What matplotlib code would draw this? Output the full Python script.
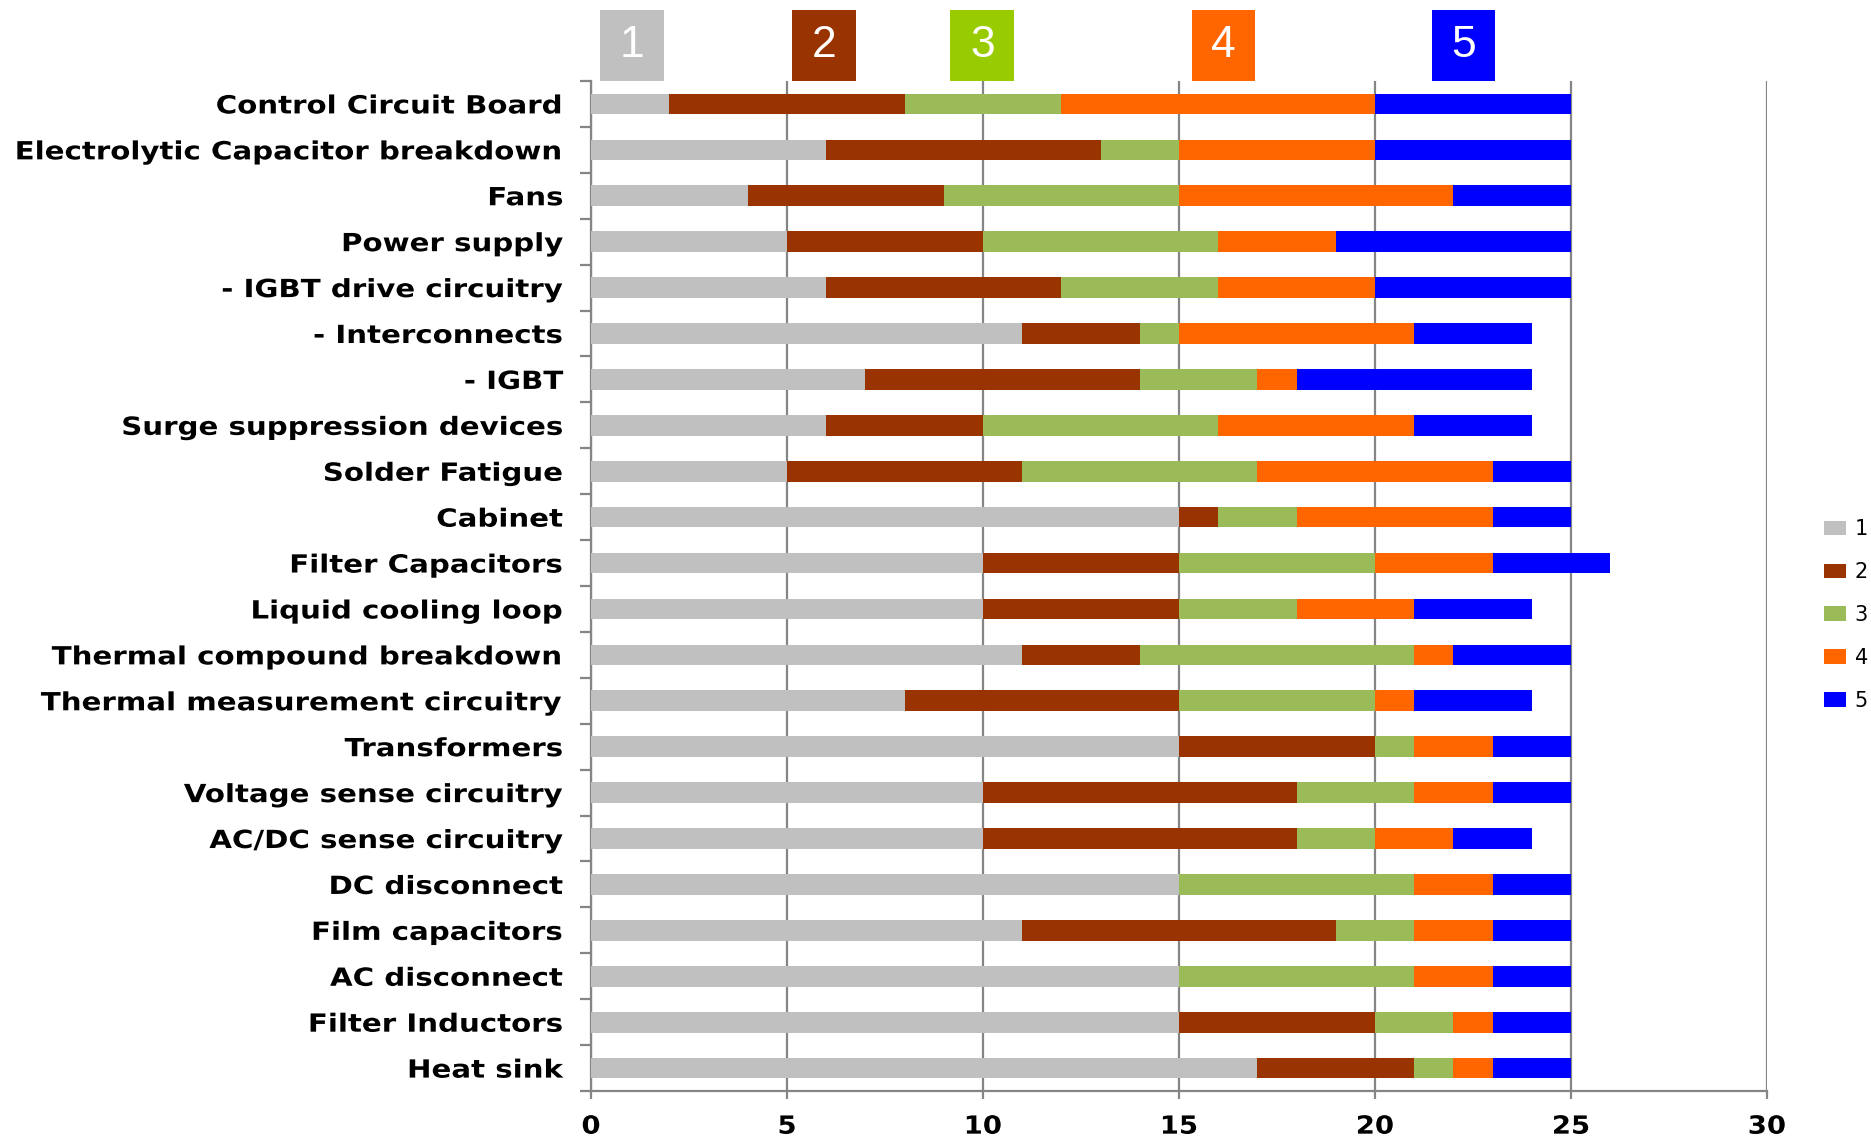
import matplotlib
matplotlib.use("Agg")
import matplotlib.pyplot as plt
from matplotlib.patches import Rectangle, Patch
from matplotlib.patheffects import AbstractPathEffect
from matplotlib.ticker import FixedLocator, NullFormatter
from matplotlib.transforms import Affine2D
import numpy as np

categories = [
    "Control Circuit Board", "Electrolytic Capacitor breakdown", "Fans",
    "Power supply", "- IGBT drive circuitry", "- Interconnects", "- IGBT",
    "Surge suppression devices", "Solder Fatigue", "Cabinet",
    "Filter Capacitors", "Liquid cooling loop", "Thermal compound breakdown",
    "Thermal measurement circuitry", "Transformers", "Voltage sense circuitry",
    "AC/DC sense circuitry", "DC disconnect", "Film capacitors",
    "AC disconnect", "Filter Inductors", "Heat sink",
]
series_names = ["1", "2", "3", "4", "5"]
s1 = [2, 6, 4, 5, 6, 11, 7, 6, 5, 15, 10, 10, 11, 8, 15, 10, 10, 15, 11, 15, 15, 17]
s2 = [6, 7, 5, 5, 6, 3, 7, 4, 6, 1, 5, 5, 3, 7, 5, 8, 8, 0, 8, 0, 5, 4]
s3 = [4, 2, 6, 6, 4, 1, 3, 6, 6, 2, 5, 3, 7, 5, 1, 3, 2, 6, 2, 6, 2, 1]
s4 = [8, 5, 7, 3, 4, 6, 1, 5, 6, 5, 3, 3, 1, 1, 2, 2, 2, 2, 2, 2, 1, 1]
s5 = [5, 5, 3, 6, 5, 3, 6, 3, 2, 2, 3, 3, 3, 3, 2, 2, 2, 2, 2, 2, 2, 2]
x_ticks = [0, 5, 10, 15, 20, 25, 30]

bar_colors = ["#C0C0C0", "#993300", "#9BBB59", "#FF6600", "#0000FF"]
header_colors = ["#C0C0C0", "#993300", "#99CC00", "#FF6600", "#0000FF"]
header_left = [0.23, 5.13, 9.17, 15.33, 21.45]
grid_gray = "#858585"


class HStretch(AbstractPathEffect):
    """Widen glyphs horizontally, keeping the right edge or centre fixed."""

    def __init__(self, sx, anchor="right"):
        super().__init__()
        self.sx = sx
        self.anchor = anchor

    def draw_path(self, renderer, gc, tpath, affine, rgbFace=None):
        ext = tpath.get_extents(affine)
        x0 = ext.x1 if self.anchor == "right" else 0.5 * (ext.x0 + ext.x1)
        t = affine + Affine2D().translate(-x0, 0).scale(self.sx, 1.0).translate(x0, 0)
        renderer.draw_path(gc, tpath, t, rgbFace)


fig = plt.figure(figsize=(18.71, 11.39), dpi=100)
ax = fig.add_axes([0.3159, 0.0421, 0.6285, 0.8868])

y = np.arange(len(categories))
left = np.zeros(len(categories))
for name, vals, col in zip(series_names, [s1, s2, s3, s4, s5], bar_colors):
    vals = np.array(vals, dtype=float)
    ax.barh(y, vals, left=left, height=0.45, color=col, edgecolor="none",
            label=name, zorder=3)
    left += vals

ax.set_xlim(0, 30)
ax.set_ylim(len(categories) - 0.5, -0.5)

# vertical gridlines behind the bars
ax.set_axisbelow(True)
ax.xaxis.set_major_locator(FixedLocator(x_ticks))
ax.grid(axis="x", color=grid_gray, linewidth=1.6, zorder=0)
ax.grid(axis="y", visible=False)

for side in ["top", "right"]:
    ax.spines[side].set_visible(False)
for side in ["left", "bottom"]:
    ax.spines[side].set_color(grid_gray)
    ax.spines[side].set_linewidth(1.6)

# category labels centred on bars, separator ticks between rows
ax.set_yticks(y)
ax.set_yticklabels(categories, fontsize=18, fontweight="bold",
                   family="DejaVu Sans")
ax.tick_params(axis="y", which="major", length=0, pad=20)
ax.yaxis.set_minor_locator(FixedLocator(np.arange(-0.5, len(categories), 1.0)))
ax.yaxis.set_minor_formatter(NullFormatter())
ax.tick_params(axis="y", which="minor", length=8, width=1.6, color=grid_gray)
for lab in ax.get_yticklabels():
    lab.set_path_effects([HStretch(1.17, "right")])

ax.set_xticklabels([str(t) for t in x_ticks], fontsize=18, fontweight="bold",
                   family="DejaVu Sans")
ax.tick_params(axis="x", which="major", length=6, width=1.6, color=grid_gray,
               pad=11)
for lab in ax.get_xticklabels():
    lab.set_path_effects([HStretch(1.1, "center")])

# numbered colour headers above the plot
for name, x0, col in zip(series_names, header_left, header_colors):
    ax.add_patch(Rectangle((x0, 1.0), 1.62, 0.070, transform=ax.get_xaxis_transform(),
                           facecolor=col, edgecolor="none", clip_on=False, zorder=4))
    ax.text(x0 + 0.81, 1.035, name, transform=ax.get_xaxis_transform(),
            ha="center", va="center", color="white", fontsize=32,
            family="Liberation Sans", zorder=5)

handles = [Patch(facecolor=c, edgecolor="none") for c in bar_colors]
fig.legend(handles, series_names, loc="center left",
           bbox_to_anchor=(0.9749, 0.46), frameon=False,
           handlelength=1.05, handleheight=0.7, handletextpad=0.43,
           labelspacing=1.1, borderpad=0, borderaxespad=0,
           prop={"family": "DejaVu Sans", "size": 15})

fig.savefig("out.png", dpi=100, facecolor="white")
